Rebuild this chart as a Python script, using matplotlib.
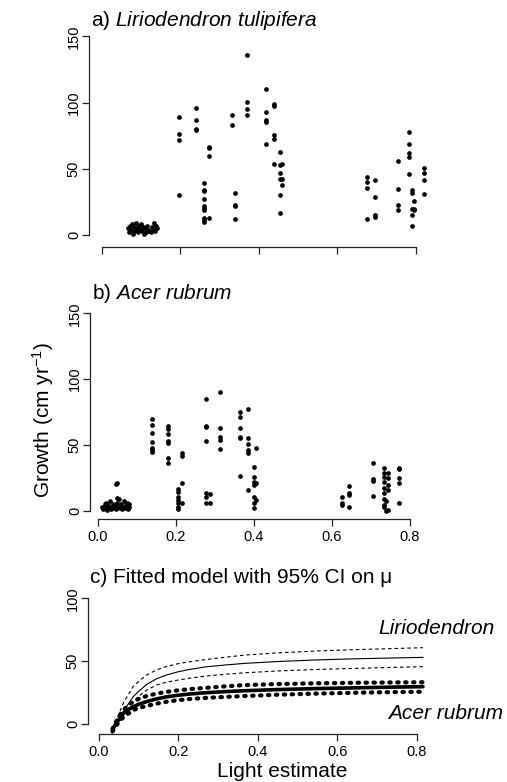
import numpy as np
import matplotlib.pyplot as plt

plt.rcParams['font.family'] = ['Liberation Sans', 'DejaVu Sans']
plt.rcParams['mathtext.fontset'] = 'custom'
plt.rcParams['mathtext.rm'] = 'Liberation Sans'
plt.rcParams['mathtext.it'] = 'Liberation Sans:italic'

W, H = 507, 782

# a) Liriodendron tulipifera - low light cluster
lirio_low_light = [0.068, 0.07, 0.072, 0.075, 0.078, 0.08, 0.083, 0.085, 0.088, 0.09,
                   0.093, 0.095, 0.098, 0.1, 0.103, 0.105, 0.108, 0.11, 0.113, 0.115,
                   0.118, 0.12, 0.125, 0.128, 0.13, 0.133, 0.135, 0.138, 0.14]
lirio_low_growth = [5, 2, 7, 4, 8, 1, 6, 3, 9, 5, 2, 7, 4, 8, 3, 6, 1, 5, 2, 7,
                    4, 3, 2, 6, 4, 9, 3, 7, 5]
# a) remaining sites, one light value per column of points
lirio_col_light = [0.197, 0.24, 0.261, 0.273, 0.333, 0.34, 0.369, 0.419, 0.44, 0.453,
                   0.459, 0.676, 0.697, 0.756, 0.784, 0.79, 0.796, 0.822]
lirio_col_growth = [[89, 76, 72, 30],
                    [96, 87, 80, 79],
                    [39, 34, 33, 27.5, 22, 20.5, 19, 12.5, 11, 9.6],
                    [66.5, 66, 59.5, 12.5],
                    [90.7, 83],
                    [31.8, 23, 22, 12],
                    [136, 100.5, 95, 90.7],
                    [110.4, 92.9, 86.5, 85.4, 68.7],
                    [99.2, 97.5, 75.8, 72.7, 53.5],
                    [62.6, 53, 46.5, 42.4, 30, 16.4],
                    [53.8, 42.4, 38.1],
                    [44, 40.3, 35.7, 12.3],
                    [41.8, 29, 15.4, 13.4],
                    [56.2, 35, 22.9, 19.1],
                    [78, 69, 62, 59.2, 46.3],
                    [34.2, 31.5, 19.6, 15.4, 7],
                    [25.9, 20, 19],
                    [50.8, 47, 41.8, 31.2]]

# b) Acer rubrum
acer_low_light = [0.012, 0.015, 0.018, 0.02, 0.023, 0.025, 0.028, 0.03, 0.033, 0.035,
                  0.038, 0.04, 0.042, 0.045, 0.047, 0.05, 0.052, 0.055, 0.057, 0.06,
                  0.062, 0.065, 0.068, 0.07, 0.073, 0.075, 0.078, 0.08, 0.082,
                  0.047, 0.051, 0.05]
acer_low_growth = [3, 1, 5, 2, 6, 0.5, 4, 2, 7, 1, 3, 5, 2, 4, 1, 6, 3, 9, 2, 5,
                   1, 3, 7, 2, 4, 6, 1, 3, 5, 20, 21.3, 9.9]
acer_col_light = [0.139, 0.182, 0.206, 0.217, 0.277, 0.288, 0.314, 0.365, 0.387, 0.4,
                  0.406, 0.626, 0.646, 0.706, 0.735, 0.74, 0.746, 0.773]
acer_col_growth = [[69.9, 65.1, 58.8, 52.4, 47.9, 46.1, 44.3],
                   [64.6, 62, 58.3, 53.2, 51.7, 40.3, 36.5],
                   [16.5, 13.9, 10.6, 8.1, 5.6, 3, 1],
                   [43.6, 41.8, 20.8, 5.6],
                   [85.1, 64.6, 63.8, 53.2, 13.2, 10.6, 6.1],
                   [12.7, 5.6],
                   [90.4, 62.8, 56.2, 53.7, 47.1],
                   [75.2, 71.4, 63.1, 56.2, 55, 26.3],
                   [77, 55, 50.4, 46.1, 43.6, 15.7],
                   [32.9, 25.8, 21.5, 19.5, 10.6, 5.6, 1.8],
                   [47.4, 20.8, 8.1],
                   [10.2, 5.6, 4],
                   [19, 13.7, 11.9, 3],
                   [36.5, 24.1, 22.6, 11.4],
                   [32.2, 28.4, 25.8, 21.8, 17.3, 13.2, 8.9, 4.6, 3],
                   [7.6, 0],
                   [28.4, 24.6, 19.5, 15.7, 0.7],
                   [32.7, 32, 24.9, 21.1, 5.6]]

# c) fitted curves
fit_light = [0.034, 0.04, 0.05, 0.061, 0.075, 0.086, 0.1, 0.12, 0.145, 0.17,
             0.2, 0.23, 0.27, 0.32, 0.37, 0.45, 0.55, 0.65, 0.75, 0.816]
lirio_mu = [-5, -1, 4, 9.8, 16.5, 21.7, 26, 31.5, 36, 39,
            41.6, 43.5, 45.5, 47, 48.3, 49.7, 51, 51.9, 52.6, 53]
lirio_hi = [-4, 0.5, 8, 16.5, 24, 29.7, 34, 39, 43, 45.8,
            48, 49.6, 51.3, 53.2, 54.9, 56.6, 58.1, 59.2, 60.1, 60.7]
lirio_lo = [-5.5, -3.5, 1, 6.5, 13, 17.5, 22, 27, 31, 33.3,
            35, 36.5, 38.2, 39.6, 40.8, 42.2, 43.4, 44.3, 45.1, 45.6]
acer_mu = [-5, -1, 3.5, 8.4, 11.5, 13.7, 15.7, 17.8, 20, 21.6,
           22.9, 23.9, 24.9, 25.8, 26.5, 27.4, 28.2, 28.8, 29.4, 29.7]
acer_hi = [-4, 0, 6, 11, 15, 17.8, 20, 22.3, 24.2, 25.6,
           26.8, 27.8, 28.8, 30, 31, 31.8, 32.4, 32.8, 33.1, 33.2]
acer_lo = [-6, -3, 1.5, 5.3, 8.5, 11, 12.8, 14.3, 16.2, 17.7,
           19, 19.9, 20.8, 21.6, 22.3, 23.3, 24.2, 24.9, 25.4, 25.7]

x_ticks = [0.0, 0.2, 0.4, 0.6, 0.8]


def flatten(low_x, low_y, col_x, col_y):
    xs = list(low_x)
    ys = list(low_y)
    for x, vals in zip(col_x, col_y):
        xs += [x] * len(vals)
        ys += vals
    return np.array(xs), np.array(ys)


def panel(left, bottom, x0, xppu, y0, yppu, xmax, ymax, yticks):
    # left/bottom = axis lines in pixels, x0/y0 = pixel of data zero
    xmin = (left - x0) / xppu
    ymin = -(bottom - y0) / yppu
    w = (xmax - xmin) * xppu
    h = (ymax - ymin) * yppu
    ax = fig.add_axes([left / W, 1 - bottom / H, w / W, h / H])
    ax.set_xlim(xmin, xmax)
    ax.set_ylim(ymin, ymax)
    ax.patch.set_alpha(0)
    for s in ['top', 'right']:
        ax.spines[s].set_visible(False)
    for s in ['left', 'bottom']:
        ax.spines[s].set_linewidth(0.9)
        ax.spines[s].set_color('#222222')
    ax.spines['bottom'].set_bounds(0, 0.8)
    ax.spines['left'].set_bounds(yticks[0], yticks[-1])
    ax.set_xticks(x_ticks)
    ax.set_xticklabels(['%.1f' % v for v in x_ticks])
    ax.set_yticks(yticks)
    ax.set_yticklabels([str(v) for v in yticks], rotation=90, va='center')
    ax.tick_params(axis='both', length=5, width=0.9, color='#222222', labelsize=10.5)
    ax.tick_params(axis='y', pad=0.8)
    ax.tick_params(axis='x', pad=3)
    return ax


fig = plt.figure(figsize=(W / 100, H / 100), dpi=100)

# a)
ax = panel(89, 247, 101.7, 392.5, 235, 1.324, 0.84, 156, [0, 50, 100, 150])
x, y = flatten(lirio_low_light, lirio_low_growth, lirio_col_light, lirio_col_growth)
ax.plot(x, y, 'o', color='black', markersize=3.4, markeredgewidth=0)
ax.tick_params(axis='x', labelbottom=False)
fig.text(90.7 / W, 1 - 26 / H, r'a) $\mathit{Liriodendron\ tulipifera}$', fontsize=15, va='baseline')

# b)
ax = panel(90, 518.5, 97.5, 390, 510.7, 1.316, 0.84, 156, [0, 50, 100, 150])
x, y = flatten(acer_low_light, acer_low_growth, acer_col_light, acer_col_growth)
ax.plot(x, y, 'o', color='black', markersize=3.4, markeredgewidth=0)
fig.text(91.7 / W, 1 - 299.3 / H, r'b) $\mathit{Acer\ rubrum}$', fontsize=15, va='baseline')
fig.text(43 / W, 1 - 420 / H, r'Growth (cm yr$^{-1}$)', fontsize=15, rotation=90,
         ha='center', va='center')

# c)
ax = panel(88, 733.5, 99, 397, 724, 1.257, 0.84, 104, [0, 50, 100])
ax.plot(fit_light, lirio_mu, color='black', lw=0.8)
ax.plot(fit_light, lirio_hi, color='black', lw=0.8, linestyle=(0, (3.2, 2.6)))
ax.plot(fit_light, lirio_lo, color='black', lw=0.8, linestyle=(0, (3.2, 2.6)))
ax.plot(fit_light, acer_mu, color='black', lw=2.6, solid_capstyle='round')
ax.plot(fit_light, acer_hi, color='black', lw=3.0, linestyle=(0, (0.35, 1.55)),
        dash_capstyle='round')
ax.plot(fit_light, acer_lo, color='black', lw=3.0, linestyle=(0, (0.35, 1.55)),
        dash_capstyle='round')
ax.text(0.703, 71.4, 'Liriodendron', fontsize=15, style='italic', va='baseline', clip_on=False)
ax.text(0.728, 3.7, 'Acer rubrum', fontsize=15, style='italic', va='baseline', clip_on=False)
fig.text(90 / W, 1 - 583.3 / H, 'c) Fitted model with 95% CI on μ', fontsize=15, va='baseline')
fig.text(281.7 / W, 1 - 777 / H, 'Light estimate', fontsize=15, ha='center', va='baseline')

fig.savefig('out.png', dpi=100)
